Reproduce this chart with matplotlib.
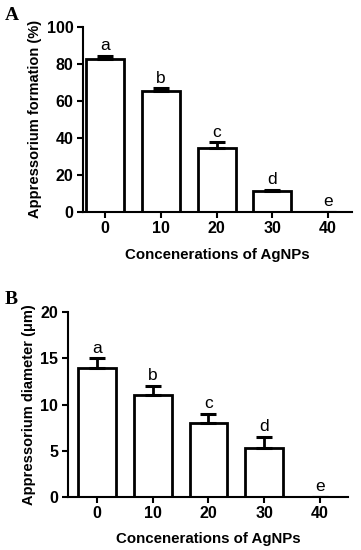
import numpy as np
import matplotlib
matplotlib.use("Agg")
import matplotlib.pyplot as plt

plt.rcParams['font.family'] = ['Liberation Sans', 'DejaVu Sans']

# 資料
conc = ['0', '10', '20', '30', '40']
letters = ['a', 'b', 'c', 'd', 'e']
formation = [82.5, 65.5, 34.5, 11.0, 0.0]
formation_err = [2.0, 1.3, 3.0, 1.0, 0.0]
diameter = [14.0, 11.0, 8.0, 5.3, 0.0]
diameter_err = [1.0, 1.0, 1.0, 1.2, 0.0]

fig = plt.figure(figsize=(3.61, 5.5), dpi=100)
axA = fig.add_axes([0.230, 0.615, 0.745, 0.336])
axB = fig.add_axes([0.188, 0.097, 0.776, 0.335])


def draw(ax, vals, errs, ylim, yticks, ylabel, xlim):
    x = np.arange(len(vals))
    ax.bar(x, vals, width=0.68, color='white', edgecolor='black', linewidth=2, zorder=2)
    ax.errorbar(x, vals, yerr=[np.zeros(len(vals)), errs], fmt='none',
                ecolor='black', elinewidth=2, capsize=5.5, capthick=2.2, zorder=3)
    for xi, v, e, lab in zip(x, vals, errs, letters):
        ax.annotate(lab, (xi, v + e), xytext=(0, 2), textcoords='offset points',
                    ha='center', va='bottom', fontsize=12.5)
    ax.set_xlim(*xlim)
    ax.set_ylim(*ylim)
    ax.set_yticks(yticks)
    ax.set_xticks(x)
    ax.set_xticklabels(conc)
    for s in ['top', 'right']:
        ax.spines[s].set_visible(False)
    for s in ['left', 'bottom']:
        ax.spines[s].set_linewidth(1.5)
    ax.tick_params(direction='out', length=4, width=1.5, labelsize=11.5, pad=3)
    for t in ax.get_xticklabels() + ax.get_yticklabels():
        t.set_fontweight('bold')
    ax.set_ylabel(ylabel, fontsize=10.5, fontweight='bold', labelpad=3)
    ax.set_xlabel('Concenerations of AgNPs', fontsize=10.8, fontweight='bold', labelpad=8)


draw(axA, formation, formation_err, (0, 100), [0, 20, 40, 60, 80, 100],
     'Appressorium formation (%)', (-0.4, 4.43))
draw(axB, diameter, diameter_err, (0, 20), [0, 5, 10, 15, 20],
     'Appressorium diameter (\u03bcm)', (-0.52, 4.5))

fig.text(0.012, 0.972, 'A', fontsize=14, fontweight='bold', family='Liberation Serif', va='center')
fig.text(0.012, 0.455, 'B', fontsize=14, fontweight='bold', family='Liberation Serif', va='center')

fig.savefig('out.png', dpi=100)
